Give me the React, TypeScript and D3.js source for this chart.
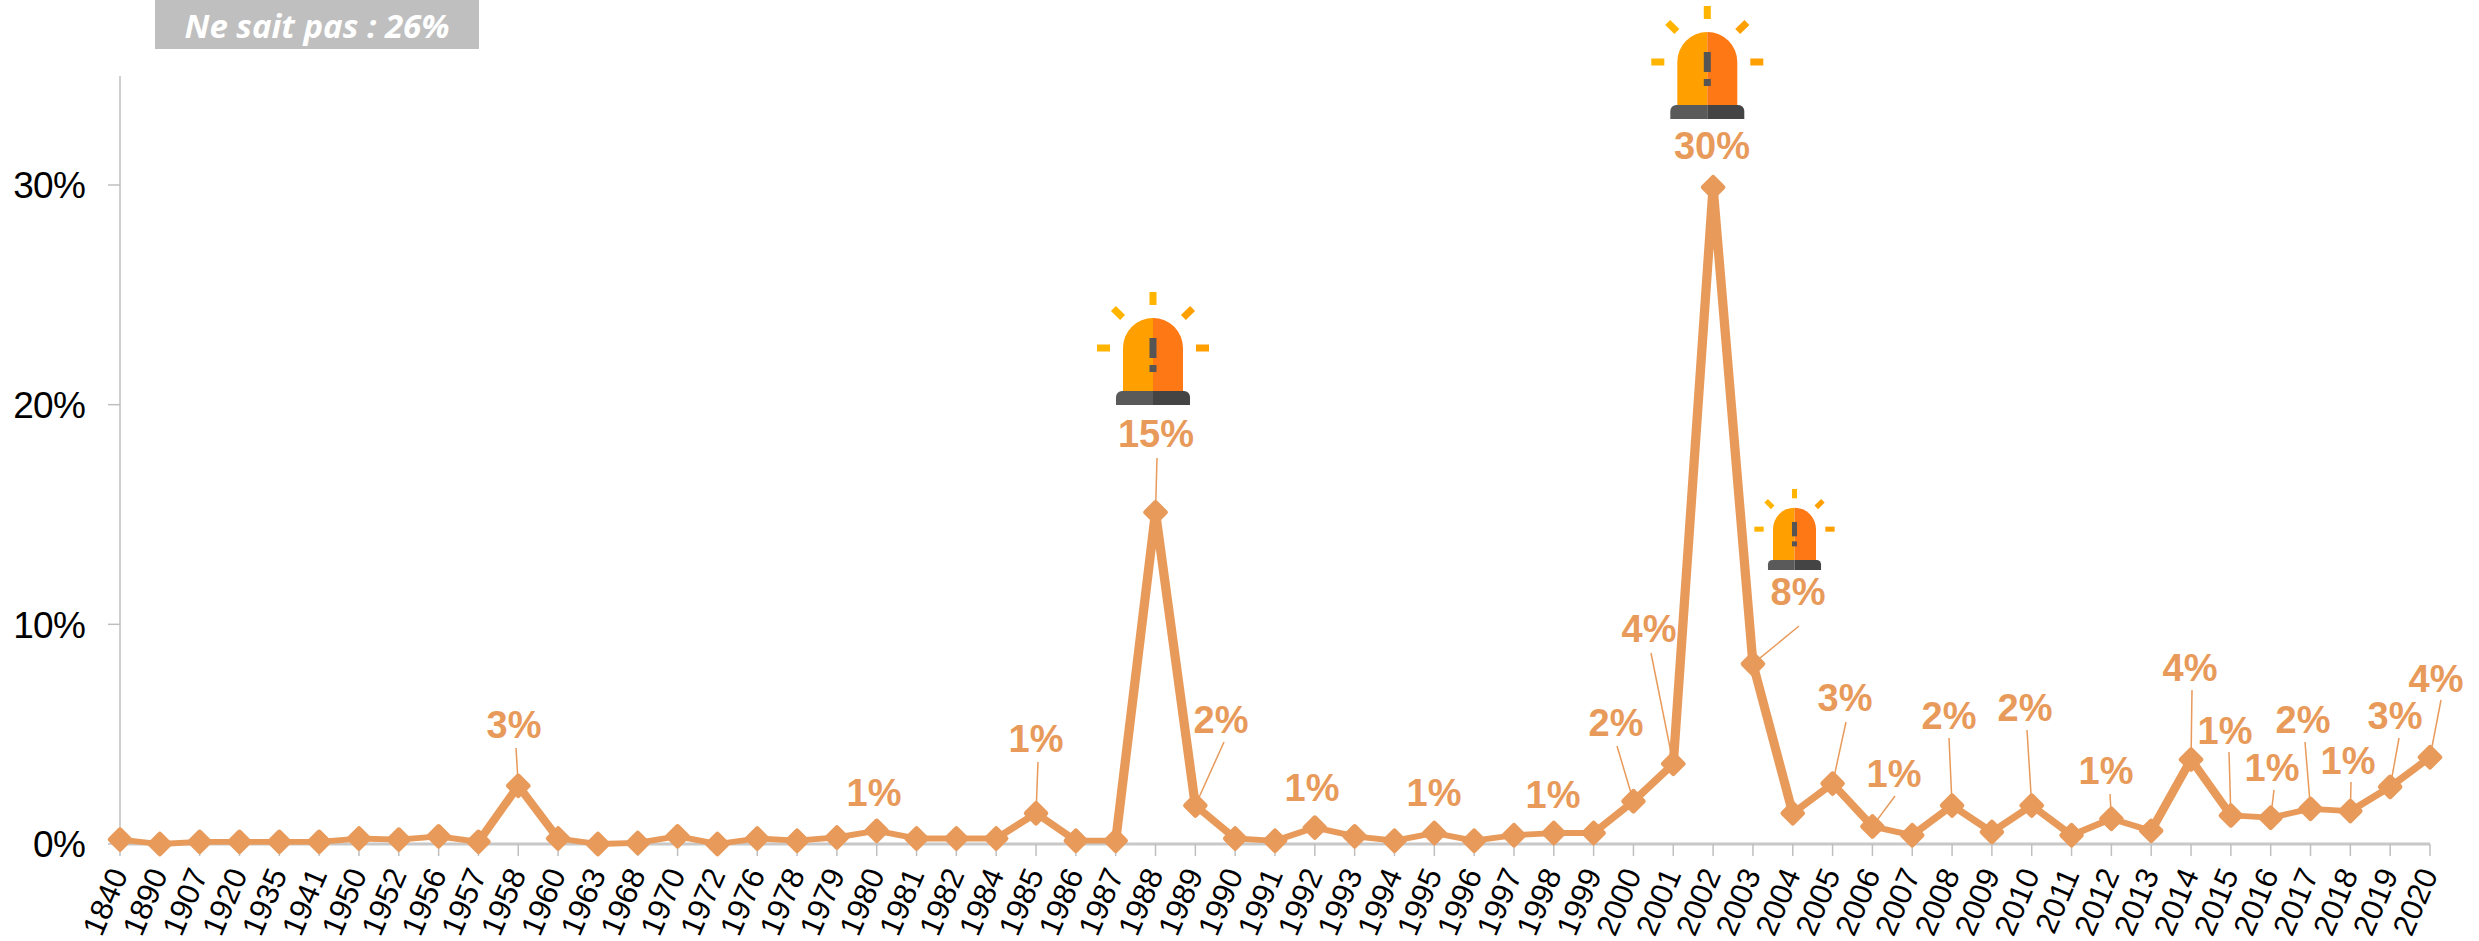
import React from "react";
import * as d3 from "d3";

const years = ["1840","1890","1907","1920","1935","1941","1950","1952","1956","1957","1958","1960","1963","1968","1970","1972","1976","1978","1979","1980","1981","1982","1984","1985","1986","1987","1988","1989","1990","1991","1992","1993","1994","1995","1996","1997","1998","1999","2000","2001","2002","2003","2004","2005","2006","2007","2008","2009","2010","2011","2012","2013","2014","2015","2016","2017","2018","2019","2020"];
const shares = [0.2,0,0.1,0.1,0.1,0.1,0.25,0.2,0.35,0.1,2.65,0.25,0,0.05,0.35,0,0.25,0.15,0.3,0.6,0.25,0.25,0.25,1.4,0.15,0.15,15.1,1.75,0.25,0.15,0.75,0.35,0.15,0.5,0.15,0.4,0.5,0.5,1.95,3.65,29.9,8.2,1.4,2.75,0.8,0.4,1.75,0.55,1.75,0.4,1.15,0.6,3.85,1.3,1.2,1.6,1.5,2.6,3.95];
const yTicks = [0,10,20,30];

// label text, label centre, and (optional) far end of the leader line
const labels: [string,string,number,number,number?,number?][] = [
  ["1958","3%",514,724,516,748],
  ["1980","1%",874,792],
  ["1985","1%",1036,738,1038,762],
  ["1988","15%",1156,433,1157,458],
  ["1989","2%",1221,719,1224,742],
  ["1992","1%",1312,787],
  ["1995","1%",1434,792],
  ["1998","1%",1553,794],
  ["2000","2%",1616,722,1617,746],
  ["2001","4%",1649,628,1651,653],
  ["2002","30%",1712,145],
  ["2003","8%",1798,591,1799,626],
  ["2005","3%",1845,697,1846,722],
  ["2006","1%",1894,773,1895,796],
  ["2008","2%",1949,715,1949,738],
  ["2010","2%",2025,707,2027,730],
  ["2012","1%",2106,770,2110,794],
  ["2014","4%",2190,667,2192,690],
  ["2015","1%",2225,730,2229,752],
  ["2016","1%",2272,767,2274,790],
  ["2017","2%",2303,719,2305,742],
  ["2018","1%",2348,760,2351,782],
  ["2019","3%",2395,715,2399,738],
  ["2020","4%",2436,678,2441,700],
];
const sirens = [
  { cx: 1707.3, top: 6, k: 1 },
  { cx: 1153, top: 292, k: 1 },
  { cx: 1794.5, top: 489, k: 0.717 },
];

const ORANGE = "#E89A5B";
const AXIS = "#BFBFBF";
const STRETCH = 1.6; // the reference line is stretched horizontally, so its stroke is thicker on steep runs

function Siren({ cx, top, k }: { cx: number; top: number; k: number }) {
  return (
    <g transform={`translate(${cx},${top}) scale(${k})`}>
      <g fill="#FFB400">
        <rect x={-3.5} y={0} width={7} height={13} />
        <rect x={-56} y={52.5} width={13} height={7} />
        <rect x={-6.5} y={-3.5} width={13} height={7} transform="translate(-35,21) rotate(45)" />
      </g>
      <g fill="#FFA000">
        <rect x={43} y={52.5} width={13} height={7} />
        <rect x={-6.5} y={-3.5} width={13} height={7} transform="translate(35,21) rotate(-45)" />
      </g>
      <path d="M-30,99 V56 A30,30 0 0 1 0,26 V99 Z" fill="#FF9F00" />
      <path d="M30,99 V56 A30,30 0 0 0 0,26 V99 Z" fill="#FF7816" />
      <path d="M-37,113 V105 A6,6 0 0 1 -31,99 H0 V113 Z" fill="#5A5A5A" />
      <path d="M37,113 V105 A6,6 0 0 0 31,99 H0 V113 Z" fill="#444444" />
      <rect x={-3.5} y={46} width={7} height={20} fill="#555555" />
      <rect x={-3.5} y={73} width={7} height={7} fill="#555555" />
    </g>
  );
}

export default function App() {
  const x = d3.scalePoint<string>().domain(years).range([120, 2430]);
  const y = d3.scaleLinear().domain([0, 30]).range([844, 185]);
  const px = (i: number) => x(years[i]) as number;
  const line = d3.line<number>().x((_, i) => px(i) / STRETCH).y((v) => y(v));
  const marker = d3.symbol().type(d3.symbolSquare).size(190)() as string;
  const font = "'Liberation Sans', Arial, sans-serif";
  return (
    <svg width={2479} height={941} style={{ position: "absolute", left: 0, top: 0, display: "block", background: "#fff" }} fontFamily={font}>
      <rect x={155} y={0} width={324} height={49} fill="#BFBFBF" />
      <text x={317} y={29} textAnchor="middle" dominantBaseline="middle" fontFamily="'Open Sans', sans-serif" fontWeight={700} fontStyle="italic" fontSize={33} fill="#fff">Ne sait pas : 26%</text>

      <line x1={120} x2={120} y1={76} y2={844} stroke={AXIS} strokeWidth={1.5} />
      {yTicks.map((t) => (
        <g key={t}>
          <line x1={108} x2={120} y1={y(t)} y2={y(t)} stroke={AXIS} strokeWidth={1.5} />
          <text x={85} y={y(t)} dy="0.36em" textAnchor="end" fontSize={37} letterSpacing={-0.8} fill="#000">{t}%</text>
        </g>
      ))}

      <line x1={120} x2={2430} y1={844} y2={844} stroke="#C8C8C8" strokeWidth={3} />
      {years.map((yr, i) => (
        <g key={yr}>
          <line x1={px(i)} x2={px(i)} y1={844} y2={856} stroke={AXIS} strokeWidth={1.5} />
          <text transform={`translate(${px(i) - 1.5},${870}) rotate(-67)`} textAnchor="end" dy="0.35em" fontSize={31} fill="#000">{yr}</text>
        </g>
      ))}

      {labels.map(([yr, , , , lx, ly]) => {
        if (lx === undefined) return null;
        const i = years.indexOf(yr);
        return <line key={yr} x1={lx} y1={ly} x2={px(i)} y2={y(shares[i])} stroke={ORANGE} strokeWidth={1.5} />;
      })}

      <g transform={`scale(${STRETCH},1)`}>
        <path d={line(shares) as string} fill="none" stroke={ORANGE} strokeWidth={5.8} strokeLinejoin="round" />
      </g>
      {shares.map((v, i) => (
        <path key={years[i]} d={marker} transform={`translate(${px(i)},${y(v)}) rotate(45)`} fill={ORANGE} stroke={ORANGE} strokeWidth={5} strokeLinejoin="round" />
      ))}

      {labels.map(([yr, txt, cx, cy]) => (
        <text key={yr} x={cx} y={cy} dy="0.36em" textAnchor="middle" fontWeight={700} fontSize={38} fill={ORANGE}>{txt}</text>
      ))}

      {sirens.map((s) => <Siren key={s.cx} {...s} />)}
    </svg>
  );
}
